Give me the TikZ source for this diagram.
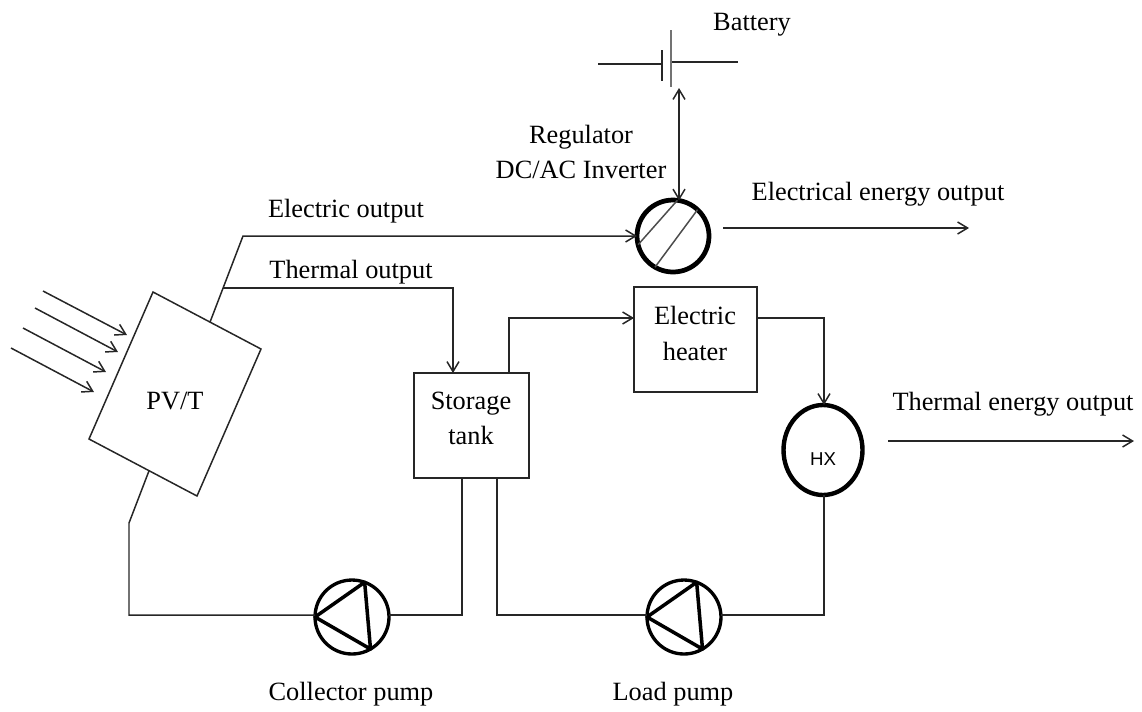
\documentclass[tikz,border=0pt]{standalone}
\usepackage{fontspec}
\setmainfont{Liberation Serif}
\newfontfamily\hxfont{Liberation Sans}
\usetikzlibrary{shapes.geometric, arrows.meta, calc}

\begin{document}
\begin{tikzpicture}[
    x=0.02cm, y=-0.02cm,
    line/.style={line width=0.85pt, draw=black!85},
    arrow/.style={line, -{Straight Barb[length=2mm, width=2.4mm]}},
    twoway/.style={line, {Straight Barb[length=2mm, width=2.4mm]}-{Straight Barb[length=2mm, width=2.4mm]}},
    box/.style={rectangle, line width=0.85pt, draw=black!85, inner sep=0pt, outer sep=0pt},
    lbl/.style={inner sep=0pt, align=center, text=black, font=\fontsize{15}{20}\selectfont},
    regulator/.style={circle, line width=2.7pt, draw=black, minimum size=1.44cm, inner sep=0pt, outer sep=0pt},
    pump/.style={circle, line width=1.9pt, draw=black, minimum size=1.48cm, inner sep=0pt, outer sep=0pt},
    exchanger/.style={ellipse, line width=2.5pt, draw=black, minimum width=1.58cm, minimum height=1.8cm, inner sep=0pt, outer sep=0pt}
]
\useasboundingbox (0,0) rectangle (1142,711);

% Panel corners
\coordinate (pvta) at (153,292);
\coordinate (pvtb) at (261,349);
\coordinate (pvtc) at (197,496);
\coordinate (pvtd) at (89,439);
\coordinate (pvttop) at ($(pvta)!0.528!(pvtb)$);
\coordinate (pvtbot) at ($(pvtd)!0.556!(pvtc)$);
\draw [line] (pvta) -- (pvtb) -- (pvtc) -- (pvtd) -- cycle;

% Nodes
\node (pvt) [lbl] at (175,401) {PV/T};
\node (reg) [regulator] at (673,236) {};
\node (store) [box, minimum width=2.3cm, minimum height=2.1cm] at (471.5,425.5) {};
\node (storelbl) [lbl] at (471,418.5) {Storage\\tank};
\node (heater) [box, minimum width=2.46cm, minimum height=2.1cm] at (695.5,339.5) {};
\node (heaterlbl) [lbl] at (695,333.5) {Electric\\heater};
\node (hx) [exchanger] at (823,450) {};
\node (hxlbl) [font=\hxfont\fontsize{10.6}{12}\selectfont, text=black, inner sep=0pt] at (823,459) {HX};
\node (cpump) [pump] at (352,617) {};
\node (lpump) [pump] at (684,617) {};

% Labels
\node (batlbl) [lbl] at (752,25) {Battery};
\node (reglbl) [lbl] at (581,152) {Regulator\\DC/AC Inverter};
\node (elbl) [lbl] at (346,211) {Electric output};
\node (tlbl) [lbl] at (351,272) {Thermal output};
\node (eoutlbl) [lbl] at (878,194) {Electrical energy output};
\node (toutlbl) [lbl] at (1013,404) {Thermal energy output};
\node (cpumplbl) [lbl] at (351,694) {Collector pump};
\node (lpumplbl) [lbl] at (673,694) {Load pump};

% Corner points
\coordinate (ebend) at (243,236);
\coordinate (tjoin) at (223,288);
\coordinate (tbend) at (453,288);
\coordinate (sbend) at (509,318);
\coordinate (hbend) at (824,318);
\coordinate (cbend) at (129,523);
\coordinate (cfoot) at (129,615);
\coordinate (sleft) at (462,615);
\coordinate (sright) at (497,615);
\coordinate (hfoot) at (824,615);
\coordinate (eout1) at (723,228);
\coordinate (eout2) at (969,228);
\coordinate (tout1) at (888,441);
\coordinate (tout2) at (1134,441);

% Sun rays
\foreach \i/\xa/\ya/\xb/\yb in {1/43/291/127/335, 2/35/308/118/352, 3/23/328/106/372, 4/11/348/94/392} {
    \coordinate (ray\i a) at (\xa,\ya);
    \coordinate (ray\i b) at (\xb,\yb);
    \draw [arrow] (ray\i a) -- (ray\i b);
}

% Battery
\coordinate (batl) at (598,64);
\coordinate (batn) at (662,64);
\coordinate (batp) at (671,62);
\coordinate (batr) at (738,62);
\draw [line] (batl) -- (batn);
\draw [line] (batp) -- (batr);
\draw [line, line width=1.1pt] (662,50) -- (662,81);
\draw [line, line width=1.5pt, draw=black!55] (671,30) -- (671,87);
\coordinate (battap) at (679,88);
\draw [twoway] (battap) -- (battap |- reg.80);

% Regulator hatch
\draw [line, draw=black!70] (reg.83) -- (reg.194);
\draw [line, draw=black!70] (reg.47) -- (reg.240);

% Pump triangles
\foreach \p in {cpump, lpump} {
    \draw [line width=2pt, black, line join=round] (\p.180) -- (\p.70) -- (\p.-60) -- cycle;
}

% Arrows
\draw [arrow] (pvttop) -- (ebend) -- (reg.west);
\draw [arrow] (tjoin) -- (tbend) -- (tbend |- store.north);
\draw [arrow] (sbend |- store.north) -- (sbend) -- (sbend -| heater.west);
\draw [arrow] (hbend -| heater.east) -- (hbend) -- (hx.north -| hbend);
\draw [arrow] (eout1) -- (eout2);
\draw [arrow] (tout1) -- (tout2);

% Pump loops
\draw [line] (pvtbot) -- (cbend) -- (cfoot) -- (cpump.west |- cfoot);
\draw [line] (cpump.east |- sleft) -- (sleft) -- (sleft |- store.south);
\draw [line] (sright |- store.south) -- (sright) -- (lpump.west |- sright);
\draw [line] (lpump.east |- hfoot) -- (hfoot) -- (hfoot |- hx.south);

\end{tikzpicture}
\end{document}
